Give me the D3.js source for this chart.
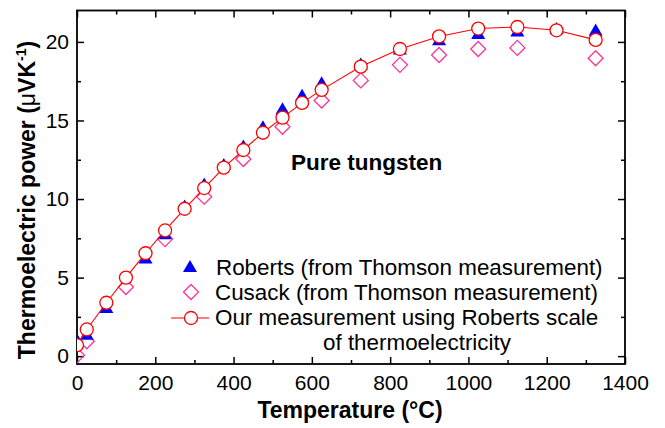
<!DOCTYPE html>
<html><head><meta charset="utf-8">
<script src="https://cdn.jsdelivr.net/npm/d3@7"></script>
<style>body{margin:0;background:#fff}svg{display:block}</style>
</head><body>
<script>
// ---- data ----
const robertsT = [0, 25, 75, 175, 225, 275, 325, 375, 425, 475, 525, 575, 625, 725, 825, 925, 1025, 1125, 1225, 1325];
const robertsS = [0.95, 1.3, 3.0, 6.15, 7.7, 9.45, 10.85, 12.1, 13.28, 14.5, 15.65, 16.5, 17.3, 18.5, 19.45, 20.05, 20.45, 20.6, 20.75, 20.65];
const cusackT = [0, 25, 125, 225, 325, 425, 525, 625, 725, 825, 925, 1025, 1125, 1325];
const cusackS = [0.05, 0.95, 4.4, 7.45, 10.15, 12.55, 14.6, 16.27, 17.55, 18.54, 19.17, 19.55, 19.62, 18.96];
const oursT = [0, 25, 75, 125, 175, 225, 275, 325, 375, 425, 475, 525, 575, 625, 725, 825, 925, 1025, 1125, 1225, 1325];
const oursS = [0.7, 1.7, 3.4, 5.0, 6.55, 8.0, 9.38, 10.7, 12.0, 13.12, 14.22, 15.18, 16.12, 16.95, 18.43, 19.55, 20.35, 20.85, 20.95, 20.74, 20.13];
const xTicks = [0, 200, 400, 600, 800, 1000, 1200, 1400];
const xMinor = [100, 300, 500, 700, 900, 1100, 1300];
const yTicks = [0, 5, 10, 15, 20];
const yMinor = [2.5, 7.5, 12.5, 17.5];
const seriesNames = ["Roberts (from Thomson measurement)", "Cusack (from Thomson measurement)", "Our measurement using Roberts scale", "of thermoelectricity"];

const W = 665, H = 428;
const X0 = 77, X1 = 625, Y0 = 364, Y1 = 10.5;
const x = d3.scaleLinear().domain([0, 1400]).range([X0, X1]);
const y = d3.scaleLinear().domain([-0.5, 22]).range([Y0, Y1]);

const svg = d3.select("body").append("svg").attr("width", W).attr("height", H)
  .style("font-family", "'Liberation Sans', Arial, sans-serif");

svg.append("defs").append("clipPath").attr("id", "clip")
  .append("rect").attr("x", X0).attr("y", Y1).attr("width", X1 - X0).attr("height", Y0 - Y1);

// axes
function styleAxis(g) {
  g.select(".domain").remove();
  g.selectAll(".tick line").attr("stroke", "#000").attr("stroke-width", 1.5);
  g.selectAll("text").attr("fill", "#000").style("font-size", "21px").style("font-family", "'Liberation Sans', Arial, sans-serif");
}
svg.append("g").attr("transform", `translate(0,${Y0})`)
  .call(d3.axisBottom(x).tickValues(xTicks).tickSize(-7).tickPadding(11).tickFormat(d3.format("d"))).call(styleAxis);
svg.append("g").attr("transform", `translate(0,${Y0})`)
  .call(d3.axisBottom(x).tickValues(xMinor).tickSize(-4).tickFormat("")).call(styleAxis);
svg.append("g").attr("transform", `translate(0,${Y1})`)
  .call(d3.axisTop(x).tickValues(xTicks).tickSize(-7).tickFormat("")).call(styleAxis);
svg.append("g").attr("transform", `translate(0,${Y1})`)
  .call(d3.axisTop(x).tickValues(xMinor).tickSize(-4).tickFormat("")).call(styleAxis);
svg.append("g").attr("transform", `translate(${X0},0)`)
  .call(d3.axisLeft(y).tickValues(yTicks).tickSize(-7).tickPadding(8).tickFormat(d3.format("d"))).call(styleAxis);
svg.append("g").attr("transform", `translate(${X0},0)`)
  .call(d3.axisLeft(y).tickValues(yMinor).tickSize(-4).tickFormat("")).call(styleAxis);
svg.append("g").attr("transform", `translate(${X1},0)`)
  .call(d3.axisRight(y).tickValues(yTicks).tickSize(-7).tickFormat("")).call(styleAxis);
svg.append("g").attr("transform", `translate(${X1},0)`)
  .call(d3.axisRight(y).tickValues(yMinor).tickSize(-4).tickFormat("")).call(styleAxis);

// frame
svg.append("rect").attr("x", X0).attr("y", Y1).attr("width", X1 - X0).attr("height", Y0 - Y1)
  .attr("fill", "none").attr("stroke", "#000").attr("stroke-width", 1.8);

// symbols
const triPath = d3.symbol(d3.symbolTriangle, 85)();
const diamondPath = "M0,-7.5L7.5,0L0,7.5L-7.5,0Z";
const BLUE = "#0000ff", PINK = "#ff3399", RED = "#ff0000";

const plot = svg.append("g").attr("clip-path", "url(#clip)");
const cusack = cusackT.map((t, i) => ({t, s: cusackS[i]}));
const roberts = robertsT.map((t, i) => ({t, s: robertsS[i]}));
const ours = oursT.map((t, i) => ({t, s: oursS[i]}));

plot.selectAll(".dia").data(cusack).join("path").attr("class", "dia")
  .attr("d", diamondPath).attr("transform", d => `translate(${x(d.t)},${y(d.s)})`)
  .attr("fill", "none").attr("stroke", PINK).attr("stroke-width", 1.3);
plot.selectAll(".tri").data(roberts).join("path").attr("class", "tri")
  .attr("d", triPath).attr("transform", d => `translate(${x(d.t)},${y(d.s)})`)
  .attr("fill", BLUE);
plot.append("path").datum(ours)
  .attr("d", d3.line().x(d => x(d.t)).y(d => y(d.s)))
  .attr("fill", "none").attr("stroke", RED).attr("stroke-width", 1.1);
plot.selectAll(".cir").data(ours).join("circle").attr("class", "cir")
  .attr("cx", d => x(d.t)).attr("cy", d => y(d.s)).attr("r", 6.5)
  .attr("fill", "#fff").attr("stroke", RED).attr("stroke-width", 1.3);

// annotation
svg.append("text").attr("x", 291).attr("y", 170).text("Pure tungsten")
  .style("font-size", "22.5px").style("font-weight", "bold");

// legend
const leg = svg.append("g");
const legX = 190, legTX = 216;
leg.append("path").attr("d", triPath).attr("transform", `translate(${legX},268)`).attr("fill", BLUE);
leg.append("path").attr("d", diamondPath).attr("transform", `translate(${legX + 1},292)`)
  .attr("fill", "none").attr("stroke", PINK).attr("stroke-width", 1.3);
leg.append("line").attr("x1", 171).attr("x2", 209).attr("y1", 318).attr("y2", 318).attr("stroke", RED).attr("stroke-width", 1.1);
leg.append("circle").attr("cx", legX + 1).attr("cy", 318).attr("r", 6.5).attr("fill", "#fff").attr("stroke", RED).attr("stroke-width", 1.3);
const legY = [275, 300, 325, 350];
const legXs = [legTX, 215, 215, 323];
seriesNames.forEach((n, i) => {
  leg.append("text").attr("x", legXs[i]).attr("y", legY[i]).text(n).style("font-size", "22.4px");
});

// axis titles
svg.append("text").attr("x", 350).attr("y", 418).attr("text-anchor", "middle")
  .style("font-size", "23px").style("font-weight", "bold").text("Temperature (°C)");
const yt = svg.append("text").attr("transform", "translate(35,200) rotate(-90)").attr("text-anchor", "middle")
  .style("font-size", "23px").style("font-weight", "bold");
yt.append("tspan").text("Thermoelectric power (");
yt.append("tspan").style("font-weight", "normal").text("μ");
yt.append("tspan").text("VK");
yt.append("tspan").attr("dy", -9).style("font-size", "14px").text("-1");
yt.append("tspan").attr("dy", 9).text(")");
</script>
</body></html>
